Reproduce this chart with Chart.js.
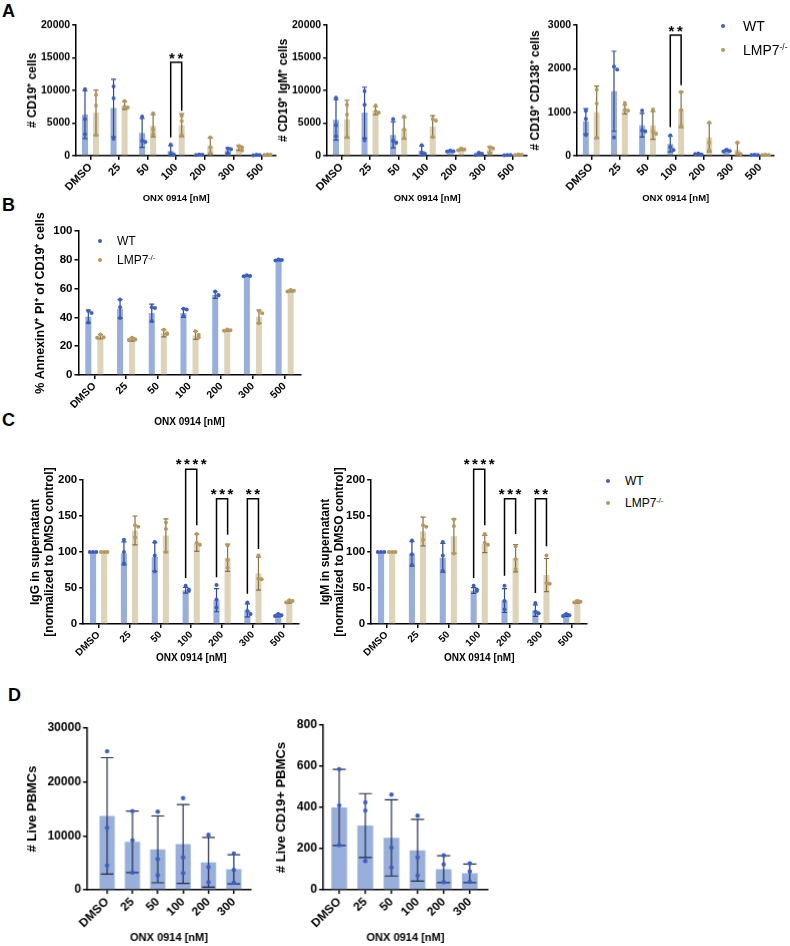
<!DOCTYPE html>
<html>
<head>
<meta charset="utf-8">
<script src="https://cdn.jsdelivr.net/npm/chart.js@4.4.0/dist/chart.umd.min.js"></script>
<style>
    body { margin: 0; width: 790px; height: 946px; position: relative; background: #fff; overflow: hidden;
           font-family: "Liberation Sans", Arial, sans-serif; color: #000; }
    .letter { position: absolute; font-weight: bold; font-size: 18px; line-height: 18px; }
    .lg-dot { position: absolute; width: 4px; height: 4px; border-radius: 50%; }
    .lg-txt { position: absolute; white-space: nowrap; }
    .lg-txt sup { font-size: 0.6em; vertical-align: 0.6em; line-height: 0; }
</style>
</head>
<body>
<div class="letter" style="left:2px;top:2px">A</div>
<div class="letter" style="left:2px;top:196px">B</div>
<div class="letter" style="left:2px;top:411px">C</div>
<div class="letter" style="left:8px;top:686px">D</div>

<script>
const doses = ["DMSO", "25", "50", "100", "200", "300", "500"];
const dosesD = ["DMSO", "25", "50", "100", "200", "300"];

// A - # CD19+ cells
const cd19WT = [6300, 7300, 3500, 750, 150, 820, 100];
const cd19WTsd = [3650, 4400, 2200, 800, 60, 410, 40];
const cd19WTpts = [[10200, 5600, 3300], [10600, 8800, 2600], [6000, 2300, 2100], [1700, 350, 200], [200, 150, 100], [1100, 1000, 350], [150, 100, 80]];
const cd19KO = [6600, 7700, 4600, 4700, 1500, 1200, 160];
const cd19KOsd = [3450, 600, 1700, 1750, 1200, 360, 35];
const cd19KOpts = [[9300, 7700, 3200], [8400, 7500, 7400], [6500, 4000, 3300], [6100, 5300, 3200], [2800, 1300, 400], [1500, 1300, 800], [200, 160, 130]];

// A - # CD19+ IgM+ cells
const igmCellWT = [5500, 6600, 3200, 780, 720, 280, 100];
const igmCellWTsd = [3100, 3900, 2000, 710, 80, 180, 30];
const igmCellWTpts = [[8900, 4700, 3000], [9900, 7800, 2400], [5600, 2300, 2000], [1600, 450, 300], [800, 700, 650], [450, 300, 100], [120, 100, 80]];
const igmCellKO = [5600, 6900, 4200, 4500, 970, 930, 150];
const igmCellKOsd = [2900, 600, 1660, 1650, 130, 470, 30];
const igmCellKOpts = [[7800, 6300, 2900], [7700, 6800, 6600], [6000, 4000, 2700], [5600, 5400, 2900], [1100, 950, 850], [1300, 1100, 400], [180, 150, 130]];

// A - # CD19+ CD138+ cells
const cd138WT = [790, 1480, 700, 270, 40, 120, 20];
const cd138WTsd = [290, 920, 270, 180, 12, 20, 5];
const cd138WTpts = [[1030, 850, 480], [2050, 1980, 420], [1040, 580, 560], [470, 200, 130], [50, 30, 40], [140, 110, 100], [25, 20, 15]];
const cd138KO = [1000, 1060, 700, 1060, 420, 130, 20];
const cd138KOsd = [600, 100, 320, 410, 330, 170, 5];
const cd138KOpts = [[1520, 1200, 420], [1210, 1060, 1040], [1060, 560, 510], [1460, 1050, 680], [760, 300, 130], [300, 60, 40], [25, 20, 18]];

// B - % AnnexinV+ PI+ of CD19+ cells
const annexWT = [40.5, 45.8, 43, 43, 55.5, 68.8, 79.8];
const annexWTsd = [4.5, 6.5, 6.2, 3, 2.3, 0.4, 0.5];
const annexWTpts = [[44.5, 43, 36.5], [52.5, 47, 39.5], [47, 46.5, 37.5], [46, 45.5, 41], [58, 55.5, 55.2], [69.2, 68.8, 68.5], [80.2, 79.8, 79.5]];
const annexKO = [26.5, 24.7, 29, 27.5, 31, 40.5, 58.3];
const annexKOsd = [1.5, 1.2, 2.5, 2.7, 0.6, 4.5, 0.6];
const annexKOpts = [[28.2, 26.2, 25.8], [25.8, 24.6, 24.3], [31.5, 29, 28.5], [30.3, 28, 26], [31.6, 31, 30.7], [44.5, 42.8, 36], [59, 58.5, 58]];

// C - IgG in supernatant (normalized)
const iggWT = [100, 98, 93, 47, 33, 19, 12];
const iggWTsd = [0, 16, 20, 4, 16, 9, 2];
const iggWTpts = [[100, 100, 100], [117, 100, 84], [114, 95, 73], [53, 48, 46], [54, 34, 23], [30, 18, 14], [14, 12, 11]];
const iggKO = [100, 130, 123, 113, 92, 70, 31];
const iggKOsd = [0, 20, 23, 12, 19, 23, 2];
const iggKOpts = [[100, 100, 100], [137, 135, 120], [141, 132, 100], [125, 113, 110], [109, 89, 78], [95, 63, 62], [33, 32, 30]];

// C - IgM in supernatant (normalized)
const igmWT = [100, 97.5, 92, 46.5, 32.5, 18.6, 12.5];
const igmWTsd = [0, 17, 20, 4, 16.5, 8, 2];
const igmWTpts = [[100, 100, 100], [116, 97, 82], [114, 95, 74], [53, 48, 46], [53, 32, 20], [29, 17, 15], [14, 12, 11]];
const igmKO = [100, 128.5, 122, 111, 91.4, 68, 31];
const igmKOsd = [0, 20, 24, 12, 19, 23, 2];
const igmKOpts = [[100, 100, 100], [137, 135, 117], [145, 136, 98], [125, 113, 110], [108, 90, 76], [95, 57, 56], [32, 31, 30]];

// D - human PBMCs
const livePBMC = [13700, 8900, 7500, 8500, 5100, 3800];
const livePBMCsd = [10800, 5700, 6200, 7300, 4600, 2700];
const livePBMCpts = [[25700, 11500, 4500], [14600, 9200, 3200], [14500, 5700, 2700], [17000, 6000, 3100], [10200, 4200, 1400], [6700, 3700, 1300]];
const liveCD19 = [400, 312, 252, 192, 100, 80];
const liveCD19sd = [185, 155, 185, 150, 65, 45];
const liveCD19pts = [[586, 410, 217], [425, 385, 140], [462, 205, 108], [360, 157, 70], [167, 123, 37], [128, 89, 39]];

// significance brackets: category, bracket top, left leg end, right leg end
const cd19Sig = [{cat: 3, top: 14300, from: 2800, to: 6900, label: "**"}];
const cd138Sig = [{cat: 3, top: 2770, from: 660, to: 1620, label: "**"}];
const iggSig = [
    {cat: 3, top: 215, from: 64, to: 137, label: "****"},
    {cat: 4, top: 174, from: 65, to: 124, label: "***"},
    {cat: 5, top: 174, from: 42, to: 104, label: "**"}
];
const igmSig = [
    {cat: 3, top: 215, from: 64, to: 137, label: "****"},
    {cat: 4, top: 174, from: 67, to: 125, label: "***"},
    {cat: 5, top: 174, from: 43, to: 108, label: "**"}
];

const FONT = '"Liberation Sans", Arial, sans-serif';
const WT_FILL = "#98aedb", WT_DOT = "#3b5ec2", WT_ERR = "#2c4a92";
const KO_FILL = "#dcd3b9", KO_DOT = "#b5985e", KO_ERR = "#8a6f42";
const D_ERR = "#1f2b48";

Chart.defaults.font.family = FONT;
Chart.defaults.color = "#000";

// error bars (SD) and individual points on top of each bar
const barExtras = {
    id: "barExtras",
    afterDatasetsDraw(chart) {
        const ctx = chart.ctx;
        const y = chart.scales.y;
        ctx.save();
        chart.data.datasets.forEach((ds, i) => {
            chart.getDatasetMeta(i).data.forEach((bar, j) => {
                const raw = ds.data[j];
                const mean = typeof raw === "object" ? raw.y : raw;
                const sd = ds.sd[j];
                const half = bar.width * 0.42;
                if (sd > 0) {
                    const yt = y.getPixelForValue(mean + sd);
                    const yb = y.getPixelForValue(Math.max(mean - sd, 0));
                    ctx.strokeStyle = ds.errColor;
                    ctx.lineWidth = 1.2;
                    ctx.beginPath();
                    ctx.moveTo(bar.x, yt); ctx.lineTo(bar.x, yb);
                    ctx.moveTo(bar.x - half, yt); ctx.lineTo(bar.x + half, yt);
                    ctx.moveTo(bar.x - half, yb); ctx.lineTo(bar.x + half, yb);
                    ctx.stroke();
                }
                const placed = [];
                ds.pts[j].forEach(v => {
                    const py = y.getPixelForValue(v);
                    const n = placed.filter(q => Math.abs(q - py) < 4).length;
                    placed.push(py);
                    const px = bar.x + [0, 3.2, -3.2, 6.4][n];
                    ctx.fillStyle = ds.dotColor;
                    ctx.beginPath();
                    ctx.arc(px, py, ds.dotR, 0, Math.PI * 2);
                    ctx.fill();
                });
            });
        });
        ctx.restore();
    }
};

function bracketPlugin(list, size, dy) {
    return {
        id: "brackets",
        afterDatasetsDraw(chart) {
            const ctx = chart.ctx;
            const y = chart.scales.y;
            list.forEach(b => {
                const x0 = chart.getDatasetMeta(0).data[b.cat].x;
                const x1 = chart.getDatasetMeta(1).data[b.cat].x;
                const yt = y.getPixelForValue(b.top);
                ctx.save();
                ctx.strokeStyle = "#000";
                ctx.lineWidth = 1.5;
                ctx.beginPath();
                ctx.moveTo(x0, y.getPixelForValue(b.from));
                ctx.lineTo(x0, yt);
                ctx.lineTo(x1, yt);
                ctx.lineTo(x1, y.getPixelForValue(b.to));
                ctx.stroke();
                ctx.fillStyle = "#000";
                ctx.font = "bold " + size + "px " + FONT;
                ctx.textAlign = "center";
                ctx.textBaseline = "alphabetic";
                ctx.letterSpacing = "2.5px";
                ctx.fillText(b.label, (x0 + x1) / 2 + 1.25, yt + dy);
                ctx.restore();
            });
        }
    };
}

function makeChart(o) {
    const yLh = o.yTitleSize * 1.2;
    const left = o.yTitleX - yLh / 2;
    const yW = o.plot[0] - left;
    const xLh = o.xTitleSize * 1.2;
    const xH = o.xTitleY + xLh / 2 - o.plot[3];
    const padTop = o.padTop || 12;
    const padRight = 10;
    const top = o.plot[1] - padTop;
    const w = o.plot[2] + padRight - left;
    const h = o.plot[3] + xH - top;

    const box = document.createElement("div");
    box.style.cssText = `position:absolute;left:${left}px;top:${top}px;width:${w}px;height:${h}px`;
    const cv = document.createElement("canvas");
    box.appendChild(cv);
    document.body.appendChild(box);

    const axisGrid = {display: true, drawOnChartArea: false, drawTicks: true, tickLength: 4, color: "#000", lineWidth: 1.5, offset: false};
    const axisBorder = {display: true, color: "#000", width: 1.5};

    const xScale = {
        offset: !o.linear,
        grid: axisGrid,
        border: axisBorder,
        ticks: {font: {family: FONT, size: o.xTickSize, weight: "bold"}, color: "#000", minRotation: 45, maxRotation: 45, autoSkip: false, padding: 1},
        title: {display: true, text: "ONX 0914 [nM]", font: {family: FONT, size: o.xTitleSize, weight: "bold"}, color: "#000", padding: 0},
        afterFit(s) { s.height = xH; }
    };
    if (o.linear) {
        xScale.type = "linear";
        xScale.min = o.xMin;
        xScale.max = o.xMax;
        xScale.ticks.stepSize = 1;
        xScale.ticks.includeBounds = false;
        xScale.ticks.callback = v => o.labels[v];
    }

    new Chart(cv, {
        type: "bar",
        data: {
            labels: o.labels,
            datasets: o.series.map(s => ({
                data: o.linear ? s.mean.map((v, i) => ({x: i, y: v})) : s.mean,
                sd: s.sd,
                pts: s.pts,
                dotColor: s.dot,
                errColor: s.err,
                dotR: o.dotR || 2,
                backgroundColor: s.fill,
                borderWidth: 0,
                categoryPercentage: o.catPct,
                barPercentage: o.barPct
            }))
        },
        options: {
            responsive: true,
            maintainAspectRatio: false,
            devicePixelRatio: 1,
            animation: false,
            events: [],
            layout: {padding: {top: padTop, right: padRight, left: 0, bottom: 0}},
            plugins: {legend: {display: false}, tooltip: {enabled: false}},
            scales: {
                x: xScale,
                y: {
                    min: 0,
                    max: o.yMax,
                    grid: axisGrid,
                    border: axisBorder,
                    ticks: {stepSize: o.yStep, font: {family: FONT, size: o.yTickSize, weight: "bold"}, color: "#000", padding: 2, callback: v => String(v)},
                    title: {display: true, text: o.yTitle, font: {family: FONT, size: o.yTitleSize, weight: "bold"}, color: "#000", padding: 0},
                    afterFit(s) { s.width = yW; }
                }
            }
        },
        plugins: o.sig ? [barExtras, bracketPlugin(o.sig, o.starSize, o.starDy)] : [barExtras]
    });
}

function pair(wt, wtSd, wtPts, ko, koSd, koPts) {
    return [
        {mean: wt, sd: wtSd, pts: wtPts, fill: WT_FILL, dot: WT_DOT, err: WT_ERR},
        {mean: ko, sd: koSd, pts: koPts, fill: KO_FILL, dot: KO_DOT, err: KO_ERR}
    ];
}

function addLegend(dotX, y, gap, size, textX) {
    [["WT", WT_DOT], ["LMP7<sup>-/-</sup>", KO_DOT]].forEach(([t, c], k) => {
        const cy = y + k * gap;
        const d = document.createElement("div");
        d.className = "lg-dot";
        d.style.left = (dotX - 2) + "px";
        d.style.top = (cy - 2) + "px";
        d.style.background = c;
        document.body.appendChild(d);
        const s = document.createElement("div");
        s.className = "lg-txt";
        s.style.left = textX + "px";
        s.style.top = (cy - size * 0.6) + "px";
        s.style.fontSize = size + "px";
        s.style.lineHeight = (size * 1.2) + "px";
        s.innerHTML = t;
        document.body.appendChild(s);
    });
}

// panel A
const aCommon = {labels: doses, yTitleSize: 12, xTitleY: 197, xTitleSize: 9.5, xTickSize: 11, yTickSize: 10.5,
    catPct: 0.77, barPct: 0.55, starSize: 15, starDy: 1};
makeChart(Object.assign({}, aCommon, {
    plot: [76, 25, 276, 155], yTitleX: 32, yTitle: "# CD19⁺ cells", yMax: 20000, yStep: 5000,
    series: pair(cd19WT, cd19WTsd, cd19WTpts, cd19KO, cd19KOsd, cd19KOpts), sig: cd19Sig
}));
makeChart(Object.assign({}, aCommon, {
    plot: [327, 25, 527, 155], yTitleX: 283, yTitle: "# CD19⁺ IgM⁺ cells", yMax: 20000, yStep: 5000,
    series: pair(igmCellWT, igmCellWTsd, igmCellWTpts, igmCellKO, igmCellKOsd, igmCellKOpts)
}));
makeChart(Object.assign({}, aCommon, {
    plot: [577, 25, 774, 155], yTitleX: 535, yTitle: "# CD19⁺ CD138⁺ cells", yMax: 3000, yStep: 1000,
    series: pair(cd138WT, cd138WTsd, cd138WTpts, cd138KO, cd138KOsd, cd138KOpts), sig: cd138Sig
}));
addLegend(723, 26, 24, 14, 743);

// panel B
makeChart({
    labels: doses, plot: [78, 231, 300, 375], yTitleX: 40, yTitleSize: 12.5, xTitleY: 422, xTitleSize: 10,
    xTickSize: 10.5, yTickSize: 11.5, padTop: 26,
    yTitle: "% AnnexinV⁺ PI⁺ of CD19⁺ cells", yMax: 100, yStep: 20, catPct: 0.76, barPct: 0.5,
    series: pair(annexWT, annexWTsd, annexWTpts, annexKO, annexKOsd, annexKOpts)
});
addLegend(100, 241, 19, 12, 117);

// panel C
const cCommon = {labels: doses, yTitleSize: 12, xTitleY: 658, xTitleSize: 10, xTickSize: 10, yTickSize: 11.5,
    yMax: 200, yStep: 50, catPct: 0.72, barPct: 0.55, padTop: 40, starSize: 15, starDy: 0};
makeChart(Object.assign({}, cCommon, {
    plot: [83, 480, 299, 624], yTitleX: 35, yTitle: ["IgG in supernatant", "[normalized to DMSO control]"],
    series: pair(iggWT, iggWTsd, iggWTpts, iggKO, iggKOsd, iggKOpts), sig: iggSig
}));
makeChart(Object.assign({}, cCommon, {
    plot: [371, 480, 587, 624], yTitleX: 325, yTitle: ["IgM in supernatant", "[normalized to DMSO control]"],
    series: pair(igmWT, igmWTsd, igmWTpts, igmKO, igmKOsd, igmKOpts), sig: igmSig
}));
addLegend(608, 481, 22, 12, 625);

// panel D
const dCommon = {labels: dosesD, linear: true, yTitleSize: 13, xTitleY: 937, xTitleSize: 11, xTickSize: 12, yTickSize: 12,
    catPct: 1, barPct: 0.6, dotR: 2.2};
makeChart(Object.assign({}, dCommon, {
    plot: [87, 728, 250, 889], yTitleX: 33, yTitle: "# Live PBMCs", yMax: 30000, yStep: 10000, xMin: -0.79, xMax: 5.67,
    series: [{mean: livePBMC, sd: livePBMCsd, pts: livePBMCpts, fill: WT_FILL, dot: WT_DOT, err: D_ERR}]
}));
makeChart(Object.assign({}, dCommon, {
    plot: [323, 725, 487, 889], yTitleX: 282, yTitle: "# Live CD19+ PBMCs", yMax: 800, yStep: 200, xMin: -0.62, xMax: 5.69,
    series: [{mean: liveCD19, sd: liveCD19sd, pts: liveCD19pts, fill: WT_FILL, dot: WT_DOT, err: D_ERR}]
}));
</script>
</body>
</html>
